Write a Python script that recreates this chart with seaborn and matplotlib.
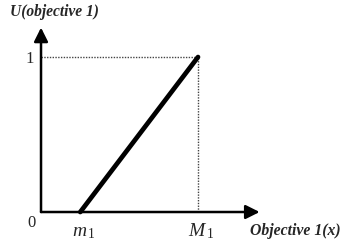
import matplotlib
matplotlib.use("Agg")
import matplotlib.pyplot as plt
import seaborn as sns
import pandas as pd

sns.set_theme(style="white")
plt.rcParams['font.family'] = ['Liberation Serif', 'DejaVu Serif']
plt.rcParams['mathtext.fontset'] = 'custom'
plt.rcParams['mathtext.it'] = 'Liberation Serif:italic'
plt.rcParams['mathtext.rm'] = 'Liberation Serif'

# data
m1 = 1.0
M1 = 4.0
x_vals = [m1, M1]
u_vals = [0.0, 1.0]
y_label = "U(objective 1)"
x_label = "Objective 1(x)"

df = pd.DataFrame({"x": x_vals, "u": u_vals})

fig = plt.figure(figsize=(3.41, 2.42), dpi=100)
ax = fig.add_axes([0, 0, 1, 1])
ax.set_xlim(-1.045, 7.643)
ax.set_ylim(-0.1935, 1.368)
ax.axis("off")

# axes with arrows
ax.annotate("", xy=(0, 1.19), xytext=(0, 0),
            arrowprops=dict(arrowstyle="-|>,head_length=0.7,head_width=0.35",
                            lw=1.8, color="black", shrinkA=0, shrinkB=0))
ax.annotate("", xy=(5.57, 0), xytext=(0, 0),
            arrowprops=dict(arrowstyle="-|>,head_length=0.7,head_width=0.35",
                            lw=1.8, color="black", shrinkA=0, shrinkB=0))

# dotted guides
ax.plot([0, M1], [1, 1], color="#444444", lw=1.0, ls=(0, (1, 1)))
ax.plot([M1, M1], [0, 1], color="#444444", lw=1.0, ls=(0, (1, 1)))

# utility line
sns.lineplot(data=df, x="x", y="u", ax=ax, color="black", linewidth=3.4)

# labels
ax.text(-0.79, 1.29, y_label, fontsize=11.2, fontweight="bold", style="italic",
        ha="left", va="center")
ax.text(-0.17, 0.99, "1", fontsize=12, ha="right", va="center")
ax.text(-0.15, -0.07, "0", fontsize=12, ha="right", va="center")
ax.text(0.80, -0.157, r"$m_{\,1}$", fontsize=14, ha="left", va="baseline")
ax.text(3.74, -0.157, r"$M_{\,1}$", fontsize=14, ha="left", va="baseline")
ax.text(5.32, -0.123, x_label, fontsize=11.3, fontweight="bold", style="italic",
        ha="left", va="center")

fig.savefig("out.png", dpi=100)
